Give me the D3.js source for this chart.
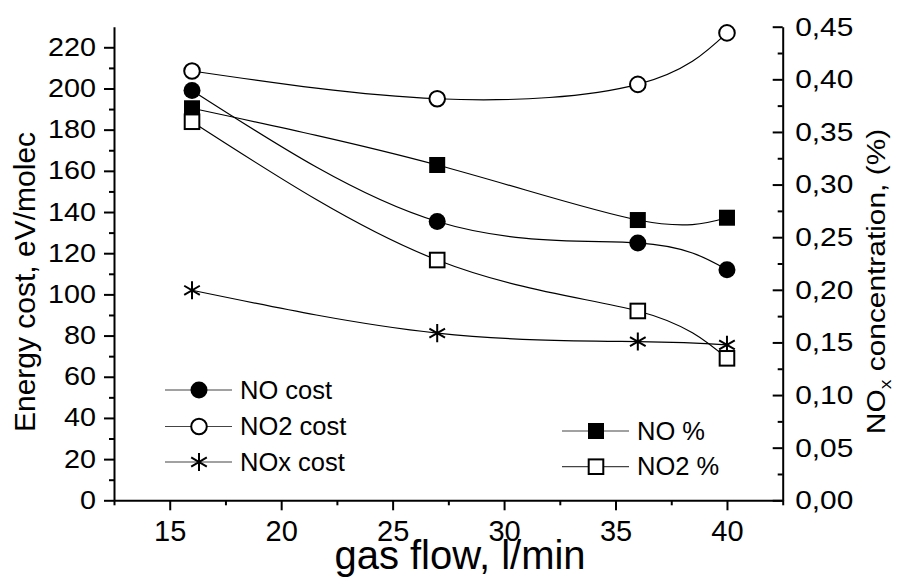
<!DOCTYPE html>
<html>
<head>
<meta charset="utf-8">
<script src="https://cdn.jsdelivr.net/npm/d3@7"></script>
<style>
  body { margin: 0; background: #fff; }
  svg { font-family: "Liberation Sans", Arial, sans-serif; }
</style>
</head>
<body>
<div id="chart"></div>
<script>
// data
var flow = [16, 27, 36, 40];
var noCost = [199, 135.4, 125, 112];
var no2Cost = [208.5, 195, 202, 227];
var noxCost = [102, 81.2, 77.1, 75.5];
var noPct = [0.3725, 0.3186, 0.2663, 0.2685];
var no2Pct = [0.3597, 0.2283, 0.1799, 0.1349];

var xTicks = [15, 20, 25, 30, 35, 40];
var xMinor = [12.5, 17.5, 22.5, 27.5, 32.5, 37.5, 42.5];
var leftTicks = [0, 20, 40, 60, 80, 100, 120, 140, 160, 180, 200, 220];
var leftMinor = [10, 30, 50, 70, 90, 110, 130, 150, 170, 190, 210];
var rightTicks = [0, 0.05, 0.10, 0.15, 0.20, 0.25, 0.30, 0.35, 0.40, 0.45];
var rightMinor = [0.025, 0.075, 0.125, 0.175, 0.225, 0.275, 0.325, 0.375, 0.425];

var width = 898, height = 579;
var plotL = 114, plotR = 782.7, plotT = 26.7, plotB = 500.3;

var svg = d3.select("#chart").append("svg")
  .attr("width", width)
  .attr("height", height);

svg.append("rect").attr("width", width).attr("height", height).attr("fill", "#fff");

var x = d3.scaleLinear().domain([12.5, 42.5]).range([plotL, plotR]);
var yL = d3.scaleLinear().domain([0, 230]).range([plotB, plotT]);
var yR = d3.scaleLinear().domain([0, 0.45]).range([plotB, plotT]);

var stretch = 1.15;

function styleAxis(g) {
  g.selectAll("path").attr("stroke", "#000").attr("stroke-width", 2);
  g.selectAll("line").attr("stroke", "#000").attr("stroke-width", 2);
  g.selectAll("text").attr("fill", "#000");
}

// bottom axis
var gx = svg.append("g").attr("transform", "translate(0," + plotB + ")")
  .call(d3.axisBottom(x).tickValues(xTicks).tickSize(10).tickSizeOuter(0).tickPadding(9.7)
    .tickFormat(d3.format("d")));
gx.selectAll("text").attr("font-size", 29);
styleAxis(gx);
var gxm = svg.append("g").attr("transform", "translate(0," + plotB + ")")
  .call(d3.axisBottom(x).tickValues(xMinor).tickSize(5).tickFormat(""));
gxm.select(".domain").remove();
styleAxis(gxm);

// left axis
var gl = svg.append("g").attr("transform", "translate(" + plotL + ",0)")
  .call(d3.axisLeft(yL).tickValues(leftTicks).tickSize(10).tickSizeOuter(0).tickPadding(8)
    .tickFormat(d3.format("d")));
gl.selectAll("text").attr("font-size", 25)
  .attr("x", -18 / stretch)
  .attr("transform", "scale(" + stretch + ",1)");
styleAxis(gl);
var glm = svg.append("g").attr("transform", "translate(" + plotL + ",0)")
  .call(d3.axisLeft(yL).tickValues(leftMinor).tickSize(5).tickFormat(""));
glm.select(".domain").remove();
styleAxis(glm);

// right axis, ticks point inward
var gr = svg.append("g").attr("transform", "translate(" + plotR + ",0)")
  .call(d3.axisRight(yR).tickValues(rightTicks).tickSize(-10).tickSizeOuter(0).tickPadding(12)
    .tickFormat(function(d) { return d3.format(".2f")(d).replace(".", ","); }));
gr.selectAll("text").attr("font-size", 26)
  .attr("x", 12.5 / stretch)
  .attr("transform", "scale(" + stretch + ",1)");
styleAxis(gr);
var grm = svg.append("g").attr("transform", "translate(" + plotR + ",0)")
  .call(d3.axisRight(yR).tickValues(rightMinor).tickSize(-5).tickFormat(""));
grm.select(".domain").remove();
styleAxis(grm);

// axis titles
svg.append("text")
  .attr("x", 460).attr("y", 569)
  .attr("text-anchor", "middle")
  .attr("font-size", 40)
  .text("gas flow, l/min");

svg.append("text")
  .attr("transform", "translate(35,282) rotate(-90)")
  .attr("text-anchor", "middle")
  .attr("font-size", 30)
  .text("Energy cost, eV/molec");

var rt = svg.append("text")
  .attr("transform", "translate(885,281.5) rotate(-90) scale(" + stretch + ",1)")
  .attr("text-anchor", "middle")
  .attr("font-size", 26);
rt.append("tspan").text("NO");
rt.append("tspan").attr("font-size", 17).attr("dy", "0.35em").text("x");
rt.append("tspan").attr("dy", "-0.23em").text(" concentration, (%)");

// curves
function drawLine(vals, y) {
  var pts = flow.map(function(f, i) { return [f, vals[i]]; });
  svg.append("path")
    .datum(pts)
    .attr("fill", "none")
    .attr("stroke", "#000")
    .attr("stroke-width", 1.2)
    .attr("d", d3.line()
      .curve(d3.curveNatural)
      .x(function(d) { return x(d[0]); })
      .y(function(d) { return y(d[1]); }));
}
drawLine(noCost, yL);
drawLine(no2Cost, yL);
drawLine(noxCost, yL);
drawLine(noPct, yR);
drawLine(no2Pct, yR);

// markers
function marker(g, type, cx, cy) {
  if (type == "circleFilled") {
    g.append("circle").attr("cx", cx).attr("cy", cy).attr("r", 8.5).attr("fill", "#000");
  } else if (type == "circleOpen") {
    g.append("circle").attr("cx", cx).attr("cy", cy).attr("r", 7.8)
      .attr("fill", "#fff").attr("stroke", "#000").attr("stroke-width", 2);
  } else if (type == "squareFilled") {
    g.append("rect").attr("x", cx - 8).attr("y", cy - 8).attr("width", 16).attr("height", 16)
      .attr("fill", "#000");
  } else if (type == "squareOpen") {
    g.append("rect").attr("x", cx - 7.3).attr("y", cy - 7.3).attr("width", 14.6).attr("height", 14.6)
      .attr("fill", "#fff").attr("stroke", "#000").attr("stroke-width", 2);
  } else if (type == "star") {
    g.append("path")
      .attr("transform", "translate(" + cx + "," + cy + ")")
      .attr("d", d3.symbol().type(d3.symbolAsterisk).size(230)())
      .attr("fill", "none").attr("stroke", "#000").attr("stroke-width", 2);
  }
}

var series = [
  { vals: noCost, y: yL, type: "circleFilled" },
  { vals: no2Cost, y: yL, type: "circleOpen" },
  { vals: noxCost, y: yL, type: "star" },
  { vals: noPct, y: yR, type: "squareFilled" },
  { vals: no2Pct, y: yR, type: "squareOpen" }
];
var gm = svg.append("g");
series.forEach(function(s) {
  s.vals.forEach(function(v, i) { marker(gm, s.type, x(flow[i]), s.y(v)); });
});

// legends
var legend = [
  { label: "NO cost", type: "circleFilled", x: 165, y: 390 },
  { label: "NO2 cost", type: "circleOpen", x: 165, y: 426.5 },
  { label: "NOx cost", type: "star", x: 165, y: 462 },
  { label: "NO %", type: "squareFilled", x: 562, y: 431 },
  { label: "NO2 %", type: "squareOpen", x: 562, y: 466.7 }
];
var gleg = svg.append("g");
legend.forEach(function(l) {
  gleg.append("line").attr("x1", l.x).attr("x2", l.x + 67).attr("y1", l.y).attr("y2", l.y)
    .attr("stroke", "#444").attr("stroke-width", 1.2);
  marker(gleg, l.type, l.x + 34, l.y);
  gleg.append("text")
    .attr("x", l.x + 75).attr("y", l.y + 8.5)
    .attr("font-size", 25.5)
    .text(l.label);
});
</script>
</body>
</html>
